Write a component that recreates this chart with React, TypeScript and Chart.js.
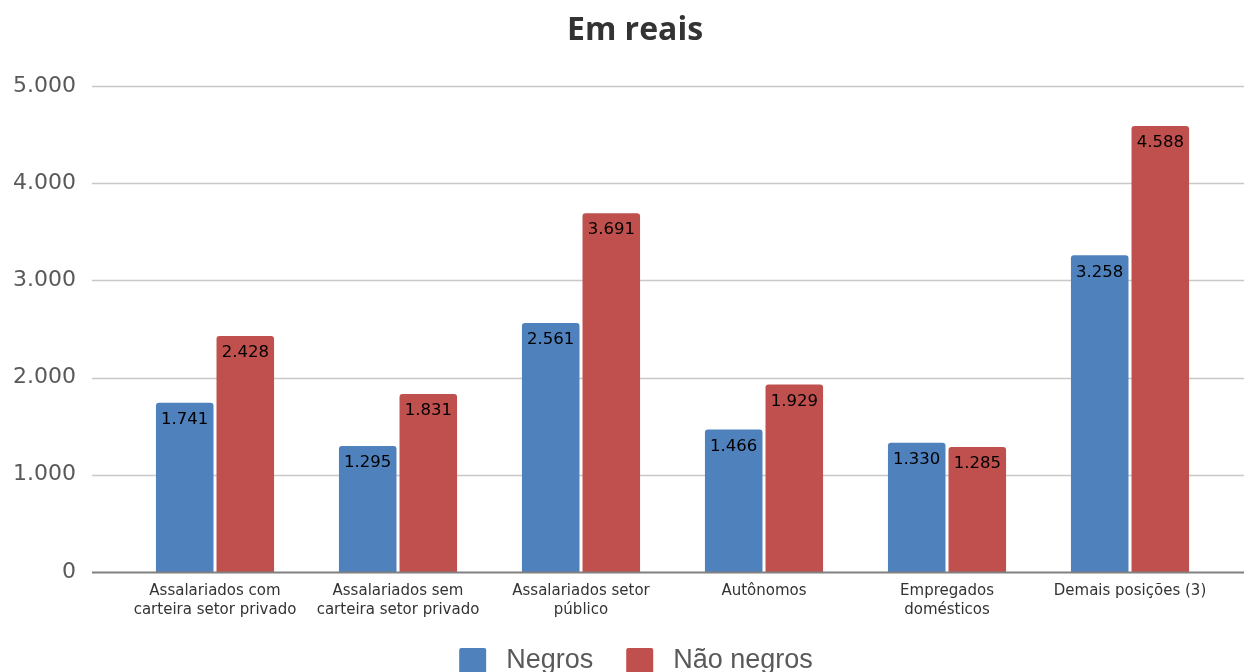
import React, { useEffect, useRef } from "react";
import { Chart, registerables } from "chart.js";

Chart.register(...registerables);

const chartTitle = "Em reais";
const categories: (string | string[])[] = [
  ["Assalariados com", "carteira setor privado"],
  ["Assalariados sem", "carteira setor privado"],
  ["Assalariados setor", "público"],
  "Autônomos",
  ["Empregados", "domésticos"],
  "Demais posições (3)",
];
const seriesNames = ["Negros", "Não negros"];
const negros = [1741, 1295, 2561, 1466, 1330, 3258];
const naoNegros = [2428, 1831, 3691, 1929, 1285, 4588];
const yTicks = [0, 1000, 2000, 3000, 4000, 5000];
const seriesColors = ["#4F81BD", "#C0504D"];

function fmt(n: number): string {
  return String(n).replace(/\B(?=(\d{3})+(?!\d))/g, ".");
}

const decorPlugin = {
  id: "decor",
  beforeDatasetsDraw(chart: any) {
    const { ctx, scales, chartArea } = chart;
    const y = scales.y;
    ctx.save();
    yTicks.forEach((v) => {
      if (v === 0) return;
      const py = Math.round(y.getPixelForValue(v)) + 0.5;
      ctx.strokeStyle = "#c8c8c8";
      ctx.lineWidth = 1.5;
      ctx.beginPath();
      ctx.moveTo(chartArea.left - 31.5, py);
      ctx.lineTo(chart.width, py);
      ctx.stroke();
    });
    ctx.restore();
  },
  afterDatasetsDraw(chart: any) {
    const { ctx, scales, chartArea } = chart;
    const y = scales.y;
    ctx.save();
    const p0 = Math.round(y.getPixelForValue(0)) + 0.5;
    ctx.strokeStyle = "#808080";
    ctx.lineWidth = 2;
    ctx.beginPath();
    ctx.moveTo(chartArea.left - 31.5, p0);
    ctx.lineTo(chart.width, p0);
    ctx.stroke();
    ctx.fillStyle = "#000";
    ctx.font = "16.5px 'DejaVu Sans'";
    ctx.textAlign = "center";
    ctx.textBaseline = "middle";
    chart.data.datasets.forEach((ds: any, di: number) => {
      const meta = chart.getDatasetMeta(di);
      meta.data.forEach((el: any, i: number) => {
        ctx.fillText(fmt(ds.data[i]), el.x, el.y + 17);
      });
    });
    ctx.restore();
  },
  afterDraw(chart: any) {
    const { ctx } = chart;
    ctx.save();
    ctx.fillStyle = "#333";
    ctx.font = "bold 32px 'Open Sans'";
    ctx.textAlign = "center";
    ctx.textBaseline = "alphabetic";
    ctx.fillText(chartTitle, 635, 40);
    ctx.font = "27px 'Liberation Sans'";
    ctx.textAlign = "left";
    const boxW = 27;
    const gapText = 20;
    const gapItem = 33;
    const widths = chart.data.datasets.map((ds: any) => ctx.measureText(ds.label).width);
    let total = 0;
    widths.forEach((w: number, i: number) => {
      total += boxW + gapText + w + (i < widths.length - 1 ? gapItem : 0);
    });
    let x = 636 - total / 2;
    chart.data.datasets.forEach((ds: any, i: number) => {
      ctx.fillStyle = ds.backgroundColor;
      ctx.beginPath();
      (ctx as any).roundRect(x, 648, boxW, 27, 2);
      ctx.fill();
      ctx.fillStyle = "#595959";
      ctx.fillText(ds.label, x + boxW + gapText, 668);
      x += boxW + gapText + widths[i] + gapItem;
    });
    ctx.restore();
  },
};

export default function App() {
  const ref = useRef<HTMLCanvasElement | null>(null);
  useEffect(() => {
    if (!ref.current) return;
    const chart = new Chart(ref.current, {
      type: "bar",
      data: {
        labels: categories,
        datasets: [
          {
            label: seriesNames[0],
            data: negros,
            backgroundColor: seriesColors[0],
            borderRadius: 3,
            categoryPercentage: 0.662,
            barPercentage: 0.95,
          },
          {
            label: seriesNames[1],
            data: naoNegros,
            backgroundColor: seriesColors[1],
            borderRadius: 3,
            categoryPercentage: 0.662,
            barPercentage: 0.95,
          },
        ],
      },
      options: {
        responsive: false,
        animation: false,
        devicePixelRatio: 1,
        layout: { padding: { left: 12, right: 22.5, top: 86, bottom: 43 } },
        plugins: {
          legend: { display: false },
          title: { display: false },
          tooltip: { enabled: false },
        },
        scales: {
          x: {
            grid: { display: false, drawTicks: false },
            border: { display: false },
            ticks: {
              color: "#333",
              font: { family: "'DejaVu Sans'", size: 15, lineHeight: 1.27 },
              padding: 9.5,
              maxRotation: 0,
              autoSkip: false,
            },
          },
          y: {
            min: 0,
            max: 5000,
            grid: { display: false, drawTicks: false },
            border: { display: false },
            afterFit: (scale: any) => {
              scale.width = 111.5;
            },
            ticks: {
              stepSize: 1000,
              color: "#595959",
              font: { family: "'DejaVu Sans'", size: 22 },
              padding: 47.5,
              callback: (v: any) => fmt(Number(v)),
            },
          },
        },
      },
      plugins: [decorPlugin],
    });
    return () => chart.destroy();
  }, []);
  return (
    <div style={{ position: "fixed", left: 0, top: 0, width: 1244, height: 672, background: "#fff" }}>
      <canvas ref={ref} width={1244} height={672} style={{ display: "block" }} />
    </div>
  );
}
